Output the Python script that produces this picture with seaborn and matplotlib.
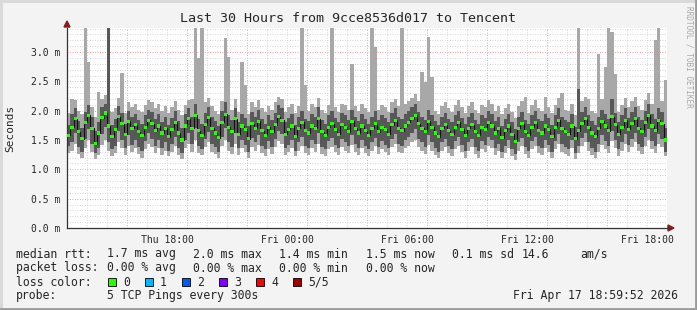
import numpy as np
import pandas as pd
import matplotlib
matplotlib.use("Agg")
import matplotlib.pyplot as plt
import seaborn as sns
from matplotlib.patches import Rectangle, Polygon
from matplotlib.lines import Line2D

# ---- data (ms), one sample every 10 minutes starting Thu 13:00 ----
med = [1.58,1.72,1.86,1.64,1.52,1.80,1.92,1.70,1.44,1.62,
       1.88,1.96,1.74,1.56,1.68,1.90,1.78,1.60,1.82,1.70,
       1.76,1.64,1.58,1.72,1.84,1.78,1.66,1.74,1.62,1.70,
       1.56,1.68,1.80,1.62,1.50,1.74,1.86,1.70,1.92,1.66,
       1.58,1.76,1.88,1.70,1.62,1.54,1.80,1.94,1.72,1.64,
       1.86,1.60,1.74,1.68,1.52,1.78,1.70,1.82,1.66,1.58,
       1.72,1.64,1.76,1.90,1.84,1.60,1.68,1.74,1.56,1.70,
       1.80,1.66,1.62,1.74,1.70,1.86,1.64,1.58,1.72,1.78,
       1.68,1.60,1.76,1.72,1.64,1.82,1.70,1.62,1.74,1.66,
       1.58,1.70,1.78,1.64,1.72,1.68,1.60,1.76,1.84,1.70,
       1.66,1.74,1.80,1.86,1.92,1.78,1.70,1.64,1.82,1.72,
       1.62,1.56,1.70,1.76,1.66,1.60,1.72,1.80,1.68,1.58,
       1.70,1.76,1.64,1.58,1.72,1.68,1.80,1.74,1.62,1.70,
       1.54,1.66,1.74,1.60,1.48,1.70,1.78,1.64,1.58,1.72,
       1.80,1.66,1.62,1.74,1.68,1.56,1.72,1.84,1.70,1.64,
       1.60,1.74,1.52,1.66,1.78,1.86,1.72,1.62,1.56,1.70,
       1.82,1.74,1.66,1.90,1.76,1.60,1.72,1.84,1.68,1.78,
       1.86,1.70,1.64,1.80,1.92,1.74,1.66,1.84,1.78,1.50]

lo = [1.28,1.32,1.44,1.26,1.20,1.36,1.50,1.30,1.18,1.24,
      1.42,1.50,1.32,1.22,1.28,1.46,1.36,1.24,1.40,1.30,
      1.36,1.26,1.20,1.34,1.44,1.38,1.28,1.36,1.24,1.32,
      1.22,1.30,1.40,1.24,1.18,1.36,1.44,1.30,1.50,1.28,
      1.24,1.38,1.46,1.30,1.26,1.20,1.40,1.50,1.32,1.26,
      1.44,1.24,1.36,1.30,1.20,1.38,1.32,1.42,1.28,1.22,
      1.34,1.26,1.38,1.48,1.44,1.24,1.30,1.36,1.22,1.32,
      1.40,1.28,1.24,1.36,1.30,1.44,1.26,1.22,1.34,1.38,
      1.30,1.24,1.38,1.32,1.28,1.42,1.30,1.24,1.36,1.28,
      1.22,1.32,1.40,1.26,1.34,1.30,1.24,1.38,1.44,1.30,
      1.28,1.36,1.40,1.46,1.50,1.38,1.32,1.26,1.42,1.32,
      1.24,1.20,1.32,1.38,1.28,1.22,1.34,1.40,1.30,1.20,
      1.32,1.38,1.26,1.20,1.34,1.30,1.40,1.36,1.24,1.32,
      1.20,1.28,1.36,1.22,1.16,1.32,1.40,1.26,1.20,1.34,
      1.40,1.28,1.24,1.36,1.30,1.20,1.34,1.44,1.30,1.26,
      1.22,1.36,1.18,1.28,1.40,1.46,1.32,1.24,1.20,1.30,
      1.42,1.34,1.28,1.48,1.36,1.22,1.32,1.44,1.30,1.38,
      1.46,1.32,1.26,1.40,1.50,1.34,1.28,1.44,1.38,1.22]

hi = [1.96,2.20,2.18,2.00,1.94,3.60,2.83,2.06,1.90,2.32,
      2.20,2.26,3.60,1.98,2.04,2.22,2.64,1.96,2.14,2.06,
      2.12,2.02,1.98,2.10,2.18,2.14,2.04,2.12,2.00,2.08,
      1.96,2.06,2.16,2.02,1.92,2.10,2.18,2.20,3.60,2.90,
      3.60,2.14,2.22,2.08,2.00,1.94,2.16,3.24,2.91,2.02,
      2.20,1.98,2.83,2.44,1.94,2.14,2.06,2.18,2.04,1.98,
      2.08,2.02,2.14,2.24,2.20,1.98,2.06,2.12,1.96,2.08,
      3.60,2.44,2.00,2.12,2.06,2.22,2.02,1.96,2.10,3.60,
      2.06,1.98,2.12,2.10,2.02,2.80,2.08,2.00,2.12,2.04,
      1.98,3.60,3.08,2.02,2.10,2.06,1.98,2.14,2.20,2.08,
      3.60,2.12,2.16,2.22,2.28,2.16,2.66,2.49,3.26,2.58,
      2.00,1.94,2.08,2.14,2.04,1.98,2.10,2.18,2.06,1.96,
      2.08,2.14,2.02,1.96,2.10,2.06,2.18,2.12,2.00,2.08,
      1.94,2.04,2.12,1.98,1.88,2.08,2.16,2.24,1.96,2.10,
      2.18,2.04,2.00,2.24,2.06,1.96,2.10,2.22,2.30,2.02,
      2.00,2.12,1.92,3.60,2.16,2.24,2.20,2.00,1.96,2.97,
      2.20,2.75,3.60,3.34,2.63,1.98,2.10,2.22,2.06,2.16,
      2.24,2.08,2.02,2.18,2.30,2.12,3.20,3.60,2.16,2.52]

dlo = [1.40,1.46,1.62,1.38,1.30,1.52,1.68,1.44,1.28,1.36,
       1.60,1.72,1.46,1.34,1.40,1.66,1.50,1.36,1.58,1.42,
       1.50,1.38,1.32,1.48,1.62,1.52,1.40,1.50,1.36,1.46,
       1.32,1.44,1.56,1.36,1.28,1.50,1.62,1.44,1.70,1.40,
       1.34,1.52,1.64,1.44,1.38,1.30,1.56,1.70,1.46,1.38,
       1.62,1.36,1.50,1.42,1.30,1.54,1.46,1.58,1.40,1.34,
       1.48,1.38,1.52,1.66,1.60,1.36,1.42,1.50,1.32,1.46,
       1.56,1.40,1.36,1.50,1.44,1.62,1.38,1.34,1.48,1.54,
       1.42,1.36,1.52,1.46,1.40,1.58,1.44,1.36,1.50,1.40,
       1.34,1.46,1.54,1.38,1.48,1.42,1.36,1.52,1.60,1.44,
       1.40,1.50,1.56,1.62,1.68,1.52,1.46,1.38,1.58,1.46,
       1.36,1.30,1.46,1.52,1.40,1.34,1.48,1.56,1.42,1.32,
       1.46,1.52,1.38,1.32,1.48,1.42,1.56,1.50,1.36,1.44,
       1.30,1.40,1.50,1.34,1.26,1.46,1.54,1.38,1.32,1.48,
       1.56,1.40,1.36,1.50,1.42,1.30,1.48,1.60,1.44,1.38,
       1.34,1.50,1.28,1.40,1.54,1.62,1.46,1.36,1.30,1.44,
       1.58,1.48,1.40,1.66,1.50,1.34,1.46,1.60,1.42,1.52,
       1.62,1.44,1.38,1.56,1.68,1.48,1.40,1.60,1.52,1.30]

dhi = [1.76,1.94,2.04,1.82,1.70,1.98,2.10,1.90,1.66,1.80,
       2.06,2.12,3.60,1.76,1.86,2.08,1.96,1.78,2.00,1.90,
       1.94,1.84,1.78,1.92,2.02,1.98,1.86,1.94,1.80,1.90,
       1.76,1.88,2.00,1.82,1.70,1.94,2.04,1.90,2.12,1.86,
       1.78,1.96,2.06,1.90,1.82,1.74,2.00,2.14,1.92,1.84,
       2.04,1.80,1.94,1.88,1.74,1.98,1.90,2.02,1.86,1.78,
       1.92,1.84,1.96,2.10,2.04,1.80,1.88,1.94,1.76,1.90,
       2.00,1.86,1.82,1.94,1.90,2.06,1.84,1.78,1.92,2.00,
       1.88,1.80,1.96,1.92,1.84,2.02,1.90,1.82,1.94,1.86,
       1.78,1.90,2.00,1.84,1.92,1.88,1.80,1.96,2.04,1.90,
       1.86,1.94,2.00,2.06,2.12,1.98,1.90,1.84,2.02,1.92,
       1.82,1.76,1.90,1.96,1.86,1.80,1.92,2.00,1.88,1.78,
       1.90,1.96,1.84,1.78,1.92,1.88,2.00,1.94,1.82,1.90,
       1.74,1.86,1.94,1.80,1.68,1.90,1.98,1.84,1.78,1.92,
       2.00,1.86,1.82,1.94,1.88,1.76,1.92,2.04,1.90,1.84,
       1.80,1.94,1.72,2.37,1.98,2.06,1.92,1.82,1.76,1.90,
       2.02,1.94,1.86,2.20,1.96,1.80,1.92,2.04,1.88,1.98,
       2.06,1.90,1.84,2.00,2.12,1.94,1.86,2.04,1.98,1.70]

tick_hours = [5, 11, 17, 23, 29]
tick_labels = ["Thu 18:00", "Fri 00:00", "Fri 06:00", "Fri 12:00", "Fri 18:00"]
ytick_vals = [0.0, 0.5, 1.0, 1.5, 2.0, 2.5, 3.0]
ytick_labels = ["0.0 m", "0.5 m", "1.0 m", "1.5 m", "2.0 m", "2.5 m", "3.0 m"]
loss_labels = ["0", "1", "2", "3", "4", "5/5"]
loss_colors = ["#26ff00", "#00b8ff", "#0059ff", "#7e00ff", "#ff0000", "#a10000"]

# ---- figure ----
sns.set_style("white")
plt.rcParams['font.family'] = ['DejaVu Sans Mono', 'DejaVu Sans']

W, H = 697, 310
fig = plt.figure(figsize=(W / 100, H / 100), dpi=100, facecolor="#f3f3f3")
L, R, T, B = 67, 667, 28, 228
ax = fig.add_axes([L / W, 1 - B / H, (R - L) / W, (B - T) / H])
ax.set_facecolor("white")

n = len(med)
step = 1 / 6.0
edges = np.arange(n + 1) * step
mid = edges[:-1] + step / 2

def ext(a):
    return np.append(np.asarray(a, float), a[-1])

ax.set_xlim(0, 30)
ax.set_ylim(0, 3.41)

# grid
for h in range(1, 31):
    if h % 3 == 0:
        ax.axvline(h, color="#ff8080", lw=0.6, ls=(0, (1, 2)), zorder=0.5)
    else:
        ax.axvline(h, color="#c8c8c8", lw=0.6, ls=(0, (1, 2)), zorder=0.5)
for k in range(1, 35):
    v = k * 0.1
    if k % 5 == 0:
        ax.axhline(v, color="#ff8080", lw=0.6, ls=(0, (1, 2)), zorder=0.5)
    else:
        ax.axhline(v, color="#c8c8c8", lw=0.6, ls=(0, (1, 2)), zorder=0.5)

# smoke
ax.fill_between(edges, ext(lo), ext(hi), step="post", color="#a8a8a8", lw=0, zorder=1)
ax.fill_between(edges, ext(dlo), ext(dhi), step="post", color="#585858", lw=0, zorder=2)
ax.step(edges, ext(med), where="post", color="#111111", lw=0.8, zorder=3)

df = pd.DataFrame({"t": mid, "median": med})
sns.scatterplot(data=df, x="t", y="median", marker="s", s=5, color="#26ff00",
                edgecolor="none", linewidth=0, ax=ax, zorder=4)

# axes styling
for s in ["top", "right"]:
    ax.spines[s].set_visible(False)
ax.spines["left"].set_color("#333333")
ax.spines["bottom"].set_color("#333333")
ax.spines["left"].set_linewidth(0.9)
ax.spines["bottom"].set_linewidth(0.9)
ax.set_xticks(tick_hours)
ax.set_xticklabels(tick_labels, fontsize=7)
ax.set_yticks(ytick_vals)
ax.set_yticklabels(ytick_labels, fontsize=7)
ax.tick_params(axis="both", length=2, width=0.6, color="#666666", pad=3)
ax.set_xlabel("")
ax.set_ylabel("")
fig.text(10 / W, 1 - 128 / H, "Seconds", rotation=90, ha="center", va="center", fontsize=8)

# arrows
fig.patches.append(Polygon([[(L - 3) / W, 1 - (T - 1) / H], [(L + 3) / W, 1 - (T - 1) / H],
                            [L / W, 1 - (T - 7) / H]], closed=True, color="#8b1a1a",
                           transform=fig.transFigure, figure=fig))
fig.patches.append(Polygon([[(R + 1) / W, 1 - (B - 3) / H], [(R + 1) / W, 1 - (B + 3) / H],
                            [(R + 7) / W, 1 - B / H]], closed=True, color="#8b1a1a",
                           transform=fig.transFigure, figure=fig))
fig.lines.append(Line2D([R / W, (R + 2) / W], [1 - B / H, 1 - B / H], color="#333333",
                        lw=0.9, transform=fig.transFigure))

# title and side text
fig.text(348 / W, 1 - 18 / H, "Last 30 Hours from 9cce8536d017 to Tencent",
         ha="center", va="center", fontsize=9.6)
fig.text(689 / W, 1 - 6 / H, "RRDTOOL / TOBI OETIKER", rotation=270, ha="center",
         va="top", fontsize=5.6, color="#a8a8a8")

# legend lines
fs = 8.3
def row(y, items):
    for txt, x in items:
        fig.text(x / W, 1 - y / H, txt, ha="left", va="center", fontsize=fs)

row(254, [("median rtt:", 16), ("1.7 ms avg", 107), ("2.0 ms max", 193),
          ("1.4 ms min", 279), ("1.5 ms now", 366), ("0.1 ms sd", 452),
          ("14.6", 522), ("am/s", 580)])
row(268, [("packet loss:", 16), ("0.00 % avg", 107), ("0.00 % max", 193),
          ("0.00 % min", 279), ("0.00 % now", 366)])
row(282, [("loss color:", 16)])
box_x = [108, 145, 182, 219, 256, 293]
for bx, lab, col in zip(box_x, loss_labels, loss_colors):
    fig.patches.append(Rectangle((bx / W, 1 - 286 / H), 8 / W, 8 / H, facecolor=col,
                                 edgecolor="black", lw=0.6, transform=fig.transFigure,
                                 figure=fig))
    fig.text((bx + 15) / W, 1 - 282 / H, lab, ha="left", va="center", fontsize=fs)
row(296, [("probe:", 16), ("5 TCP Pings every 300s", 107), ("Fri Apr 17 18:59:52 2026", 513)])

# frame
fig.lines.append(Line2D([0, 1], [1 - 0.5 / H, 1 - 0.5 / H], color="#d8d8d8", lw=2, transform=fig.transFigure))
fig.lines.append(Line2D([0.5 / W, 0.5 / W], [0, 1], color="#d8d8d8", lw=2, transform=fig.transFigure))
fig.lines.append(Line2D([0, 1], [1.0 / H, 1.0 / H], color="#9a9a9a", lw=2, transform=fig.transFigure))
fig.lines.append(Line2D([1 - 1.0 / W, 1 - 1.0 / W], [0, 1], color="#9a9a9a", lw=2, transform=fig.transFigure))

fig.savefig("out.png", dpi=100, facecolor=fig.get_facecolor())
